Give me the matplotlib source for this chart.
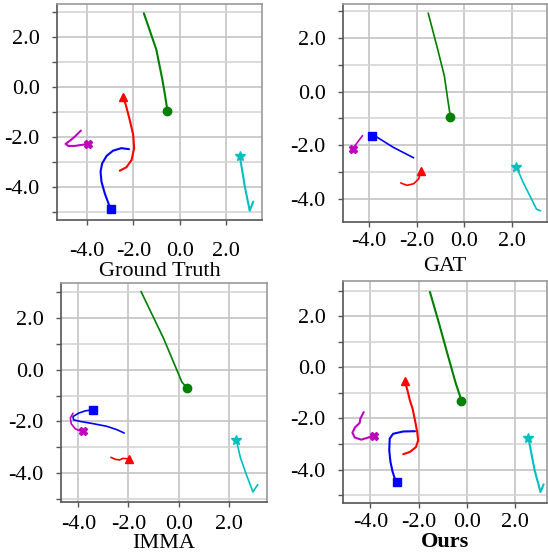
import matplotlib
matplotlib.use("Agg")
import matplotlib.pyplot as plt
from matplotlib.ticker import MultipleLocator, FormatStrFormatter

plt.rcParams['font.family'] = ['Liberation Serif', 'DejaVu Serif']
plt.rcParams['axes.unicode_minus'] = False
plt.rcParams['font.size'] = 16

# trajectories per method: each agent is (xs, ys); the last point is the final position
colors = ['g', 'r', 'b', 'm', 'c']
markers = ['o', '^', 's', 'X', '*']
titles = ['Ground Truth', 'GAT', 'IMMA', 'Ours']

gt_x = [
    [-1.55, -1.01, -0.75, -0.65, -0.53],
    [-2.59, -2.30, -2.08, -1.97, -2.01, -2.16, -2.33, -2.45],
    [-2.19, -2.52, -2.88, -3.16, -3.35, -3.42, -3.38, -3.24, -3.05, -2.95],
    [-4.27, -4.53, -4.74, -4.93, -4.81, -4.53, -4.24, -3.95],
    [3.17, 3.02, 2.81, 2.62, 2.59],
]
gt_y = [
    [2.93, 1.47, 0.27, -0.27, -0.97],
    [-3.36, -3.22, -2.93, -2.46, -1.93, -1.33, -0.73, -0.40],
    [-2.50, -2.46, -2.56, -2.77, -3.07, -3.40, -3.80, -4.26, -4.74, -4.88],
    [-1.76, -2.00, -2.16, -2.29, -2.37, -2.37, -2.33, -2.29],
    [-4.60, -4.96, -4.00, -2.93, -2.77],
]

gat_x = [
    [-1.52, -1.12, -0.84, -0.70, -0.59],
    [-2.67, -2.41, -2.13, -1.92, -1.85, -1.82],
    [-2.13, -2.98, -3.68, -3.89],
    [-4.27, -4.45, -4.69],
    [3.19, 3.02, 2.81, 2.46, 2.18],
]
gat_y = [
    [2.94, 1.58, 0.58, -0.29, -0.94],
    [-3.41, -3.50, -3.44, -3.26, -3.04, -2.98],
    [-2.47, -2.08, -1.69, -1.64],
    [-1.64, -1.85, -2.14],
    [-4.45, -4.39, -4.01, -3.39, -2.81],
]

imma_x = [
    [-1.50, -0.60, 0.13, 0.33],
    [-2.70, -2.52, -2.35, -2.22, -1.99],
    [-2.17, -2.46, -2.86, -3.39, -3.92, -4.19, -4.21, -3.99, -3.72, -3.41],
    [-4.21, -4.32, -4.28, -4.12, -3.95, -3.81],
    [3.15, 2.96, 2.72, 2.46, 2.30],
]
imma_y = [
    [3.03, 1.21, -0.48, -0.70],
    [-3.39, -3.47, -3.49, -3.43, -3.45],
    [-2.45, -2.32, -2.19, -2.09, -2.00, -1.94, -1.81, -1.68, -1.59, -1.55],
    [-1.68, -1.87, -2.09, -2.29, -2.36, -2.39],
    [-4.45, -4.73, -4.12, -3.40, -2.73],
]

ours_x = [
    [-1.53, -1.15, -0.81, -0.46, -0.22],
    [-2.64, -2.36, -2.11, -2.02, -2.06, -2.15, -2.25, -2.36, -2.47, -2.58],
    [-2.15, -2.64, -3.06, -3.20, -3.22, -3.17, -3.08, -2.99, -2.89],
    [-4.28, -4.42, -4.45, -4.65, -4.75, -4.65, -4.38, -4.10, -3.86],
    [3.19, 3.06, 2.81, 2.56],
]
ours_y = [
    [2.95, 1.71, 0.55, -0.62, -1.30],
    [-3.40, -3.31, -3.12, -2.86, -2.53, -2.08, -1.62, -1.30, -0.88, -0.52],
    [-2.50, -2.51, -2.60, -2.79, -3.25, -3.70, -4.09, -4.35, -4.49],
    [-1.75, -2.01, -2.18, -2.36, -2.56, -2.75, -2.83, -2.75, -2.67],
    [-4.58, -4.88, -4.00, -2.77],
]

all_x = [gt_x, gat_x, imma_x, ours_x]
all_y = [gt_y, gat_y, imma_y, ours_y]

# axes boxes in pixels (left, right, top, bottom) and limits
W, H = 548, 552
boxes = [(57, 262, 4, 220), (343, 547, 4, 222), (61, 267, 283, 502), (343, 547, 281, 503)]
xlims = [(-5.3, 3.55), (-5.09, 3.46), (-4.69, 3.52), (-5.14, 3.33)]
ylims = [(-5.33, 3.3), (-4.87, 3.28), (-5.12, 3.36), (-5.31, 3.38)]
xpads = [12, 3.5, 6, 3.5]
labelpads = [0.7, 4.5, 0, 0]

fig = plt.figure(figsize=(W / 100, H / 100), dpi=100)

for k in range(4):
    l, r, t, b = boxes[k]
    ax = fig.add_axes([l / W, 1 - b / H, (r - l) / W, (b - t) / H])
    for i in range(5):
        lw = 1.5 if k in (0, 3) else 1.2
        ax.plot(all_x[k][i], all_y[k][i], color=colors[i], lw=lw,
                solid_joinstyle='round', solid_capstyle='round')
        ax.plot(all_x[k][i][-1], all_y[k][i][-1], marker=markers[i], color=colors[i],
                ms=6 if markers[i] != '*' else 7, ls='none')
    ax.set_xlim(xlims[k])
    ax.set_ylim(ylims[k])
    ax.xaxis.set_major_locator(MultipleLocator(2))
    ax.yaxis.set_major_locator(MultipleLocator(2))
    ax.yaxis.set_minor_locator(MultipleLocator(1, offset=1))
    ax.xaxis.set_major_formatter(FormatStrFormatter('%.1f'))
    ax.yaxis.set_major_formatter(FormatStrFormatter('%.1f'))
    ax.grid(True, which='major', color='#c4c4c4', lw=1.2)
    ax.grid(True, which='minor', axis='y', color='#d4d4d4', lw=1.2)
    ax.set_axisbelow(True)
    ax.tick_params(which='both', direction='out', length=3.5, width=1, color='#555555',
                   labelsize=16)
    ax.tick_params(axis='y', pad=9)
    ax.tick_params(axis='x', pad=xpads[k])
    for side in ['left', 'bottom']:
        ax.spines[side].set_color('#555555')
        ax.spines[side].set_linewidth(1.2)
    for side in ['top', 'right']:
        ax.spines[side].set_color('#999999')
        ax.spines[side].set_linewidth(1.2)
    weight = 'bold' if titles[k] == 'Ours' else 'normal'
    ax.set_xlabel(titles[k], fontsize=16, fontweight=weight, labelpad=labelpads[k])

fig.savefig("out.png", dpi=100)
